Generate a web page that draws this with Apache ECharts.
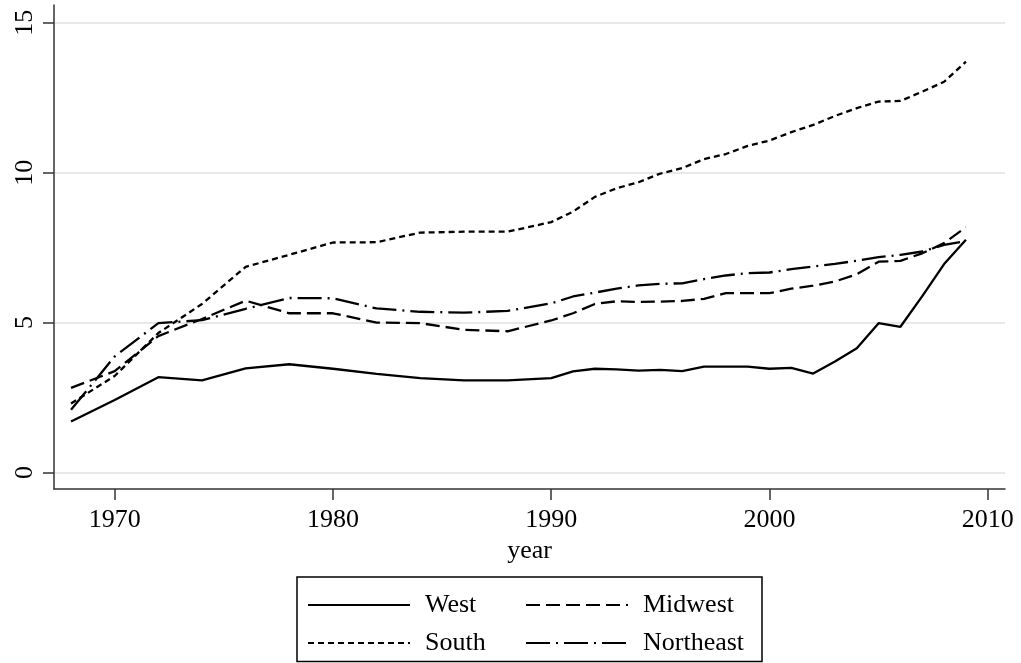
<!DOCTYPE html>
<html>
<head>
<meta charset="utf-8">
<script src="https://cdn.jsdelivr.net/npm/echarts@6/dist/echarts.min.js"></script>
<style>
  html, body { margin: 0; padding: 0; background: #fff; }
  #chart { width: 1021px; height: 663px; }
</style>
</head>
<body>
<div id="chart"></div>
<script>
// years: every 2 years up to 1990, then yearly
const years = [1968, 1970, 1972, 1974, 1976, 1978, 1980, 1982, 1984, 1986, 1988, 1990,
    1991, 1992, 1993, 1994, 1995, 1996, 1997, 1998, 1999, 2000,
    2001, 2002, 2003, 2004, 2005, 2006, 2007, 2008, 2009];

const west = [1.70, 2.42, 3.18, 3.07, 3.47, 3.61, 3.46, 3.29, 3.15, 3.07, 3.07, 3.15,
    3.37, 3.46, 3.44, 3.40, 3.42, 3.38, 3.53, 3.53, 3.53, 3.46,
    3.49, 3.30, 3.70, 4.14, 4.98, 4.86, 5.88, 6.95, 7.76];
const midwest = [2.82, 3.38, 4.55, 5.12, 5.73, 5.31, 5.31, 5.00, 4.98, 4.76, 4.71, 5.07,
    5.31, 5.62, 5.71, 5.69, 5.70, 5.72, 5.79, 5.98, 5.98, 5.98,
    6.13, 6.23, 6.37, 6.61, 7.03, 7.06, 7.31, 7.65, 8.18];
const south = [2.30, 3.22, 4.65, 5.62, 6.86, 7.26, 7.67, 7.68, 8.00, 8.03, 8.03, 8.35,
    8.70, 9.19, 9.48, 9.68, 9.97, 10.15, 10.45, 10.62, 10.89, 11.07,
    11.35, 11.59, 11.89, 12.15, 12.37, 12.39, 12.70, 13.03, 13.70];
const northeast = [2.09, 3.87, 4.98, 5.08, 5.46, 5.82, 5.81, 5.47, 5.36, 5.33, 5.39, 5.64,
    5.87, 6.00, 6.13, 6.24, 6.29, 6.31, 6.45, 6.57, 6.65, 6.67,
    6.78, 6.87, 6.96, 7.06, 7.18, 7.26, 7.37, 7.59, 7.72];

const xTicks = [1970, 1980, 1990, 2000, 2010];
const yTicks = [0, 5, 10, 15];

const FONT = '"Liberation Serif", "Times New Roman", serif';

const chart = echarts.init(document.getElementById('chart'));

function pairs(vals) {
    return years.map((y, i) => [y, vals[i]]);
}

function lineSeries(name, vals, dash) {
    return {
        name: name,
        type: 'line',
        data: pairs(vals),
        symbol: 'none',
        lineStyle: { color: '#000', width: 2.3, type: dash },
        itemStyle: { color: '#000' },
        emphasis: { disabled: true }
    };
}

// two vertical legends side by side, one per column
const legendBase = {
    orient: 'vertical',
    top: 591,
    height: 70,
    padding: 0,
    itemWidth: 102,
    itemHeight: 20,
    itemGap: 10,
    selectedMode: false,
    itemStyle: { opacity: 0 },
    textStyle: {
        fontFamily: FONT,
        fontSize: 26,
        lineHeight: 28,
        color: '#000',
        padding: [0, 0, 0, 10]
    }
};

const option = {
    animation: false,
    backgroundColor: '#fff',
    grid: { left: 54, right: 16, top: 5, bottom: 174 },
    xAxis: {
        type: 'value',
        min: 1967.22,
        max: 2010.79,
        name: 'year',
        nameLocation: 'middle',
        nameGap: 42,
        nameTextStyle: { fontFamily: FONT, fontSize: 26, color: '#000' },
        axisLine: { show: true, onZero: false, lineStyle: { color: '#333', width: 1.5 } },
        axisTick: { show: true, length: 11, customValues: xTicks, lineStyle: { color: '#333', width: 1.5 } },
        axisLabel: {
            customValues: xTicks,
            formatter: v => String(v),
            fontFamily: FONT, fontSize: 26, color: '#000', margin: 18
        },
        splitLine: { show: false }
    },
    yAxis: {
        type: 'value',
        min: -0.55,
        max: 15.59,
        axisLine: { show: true, onZero: false, lineStyle: { color: '#333', width: 1.5 } },
        axisTick: { show: true, length: 11, customValues: yTicks, lineStyle: { color: '#333', width: 1.5 } },
        axisLabel: { customValues: yTicks, rotate: 90, fontFamily: FONT, fontSize: 26, color: '#000', margin: 16 },
        splitLine: { show: true, lineStyle: { color: '#e8e8e8', width: 2 } }
    },
    legend: [
        Object.assign({}, legendBase, { left: 307, data: ['West', 'South'] }),
        Object.assign({}, legendBase, { left: 525, data: ['Midwest', 'Northeast'] })
    ],
    graphic: [{
        type: 'rect',
        shape: { x: 297, y: 577, width: 465, height: 84.5 },
        style: { fill: 'none', stroke: '#000', lineWidth: 1.5 },
        silent: true
    }],
    series: [
        lineSeries('West', west, 'solid'),
        lineSeries('Midwest', midwest, [14, 6]),
        lineSeries('South', south, [6, 4]),
        lineSeries('Northeast', northeast, [24, 6, 2, 6])
    ]
};

chart.setOption(option);
</script>
</body>
</html>
